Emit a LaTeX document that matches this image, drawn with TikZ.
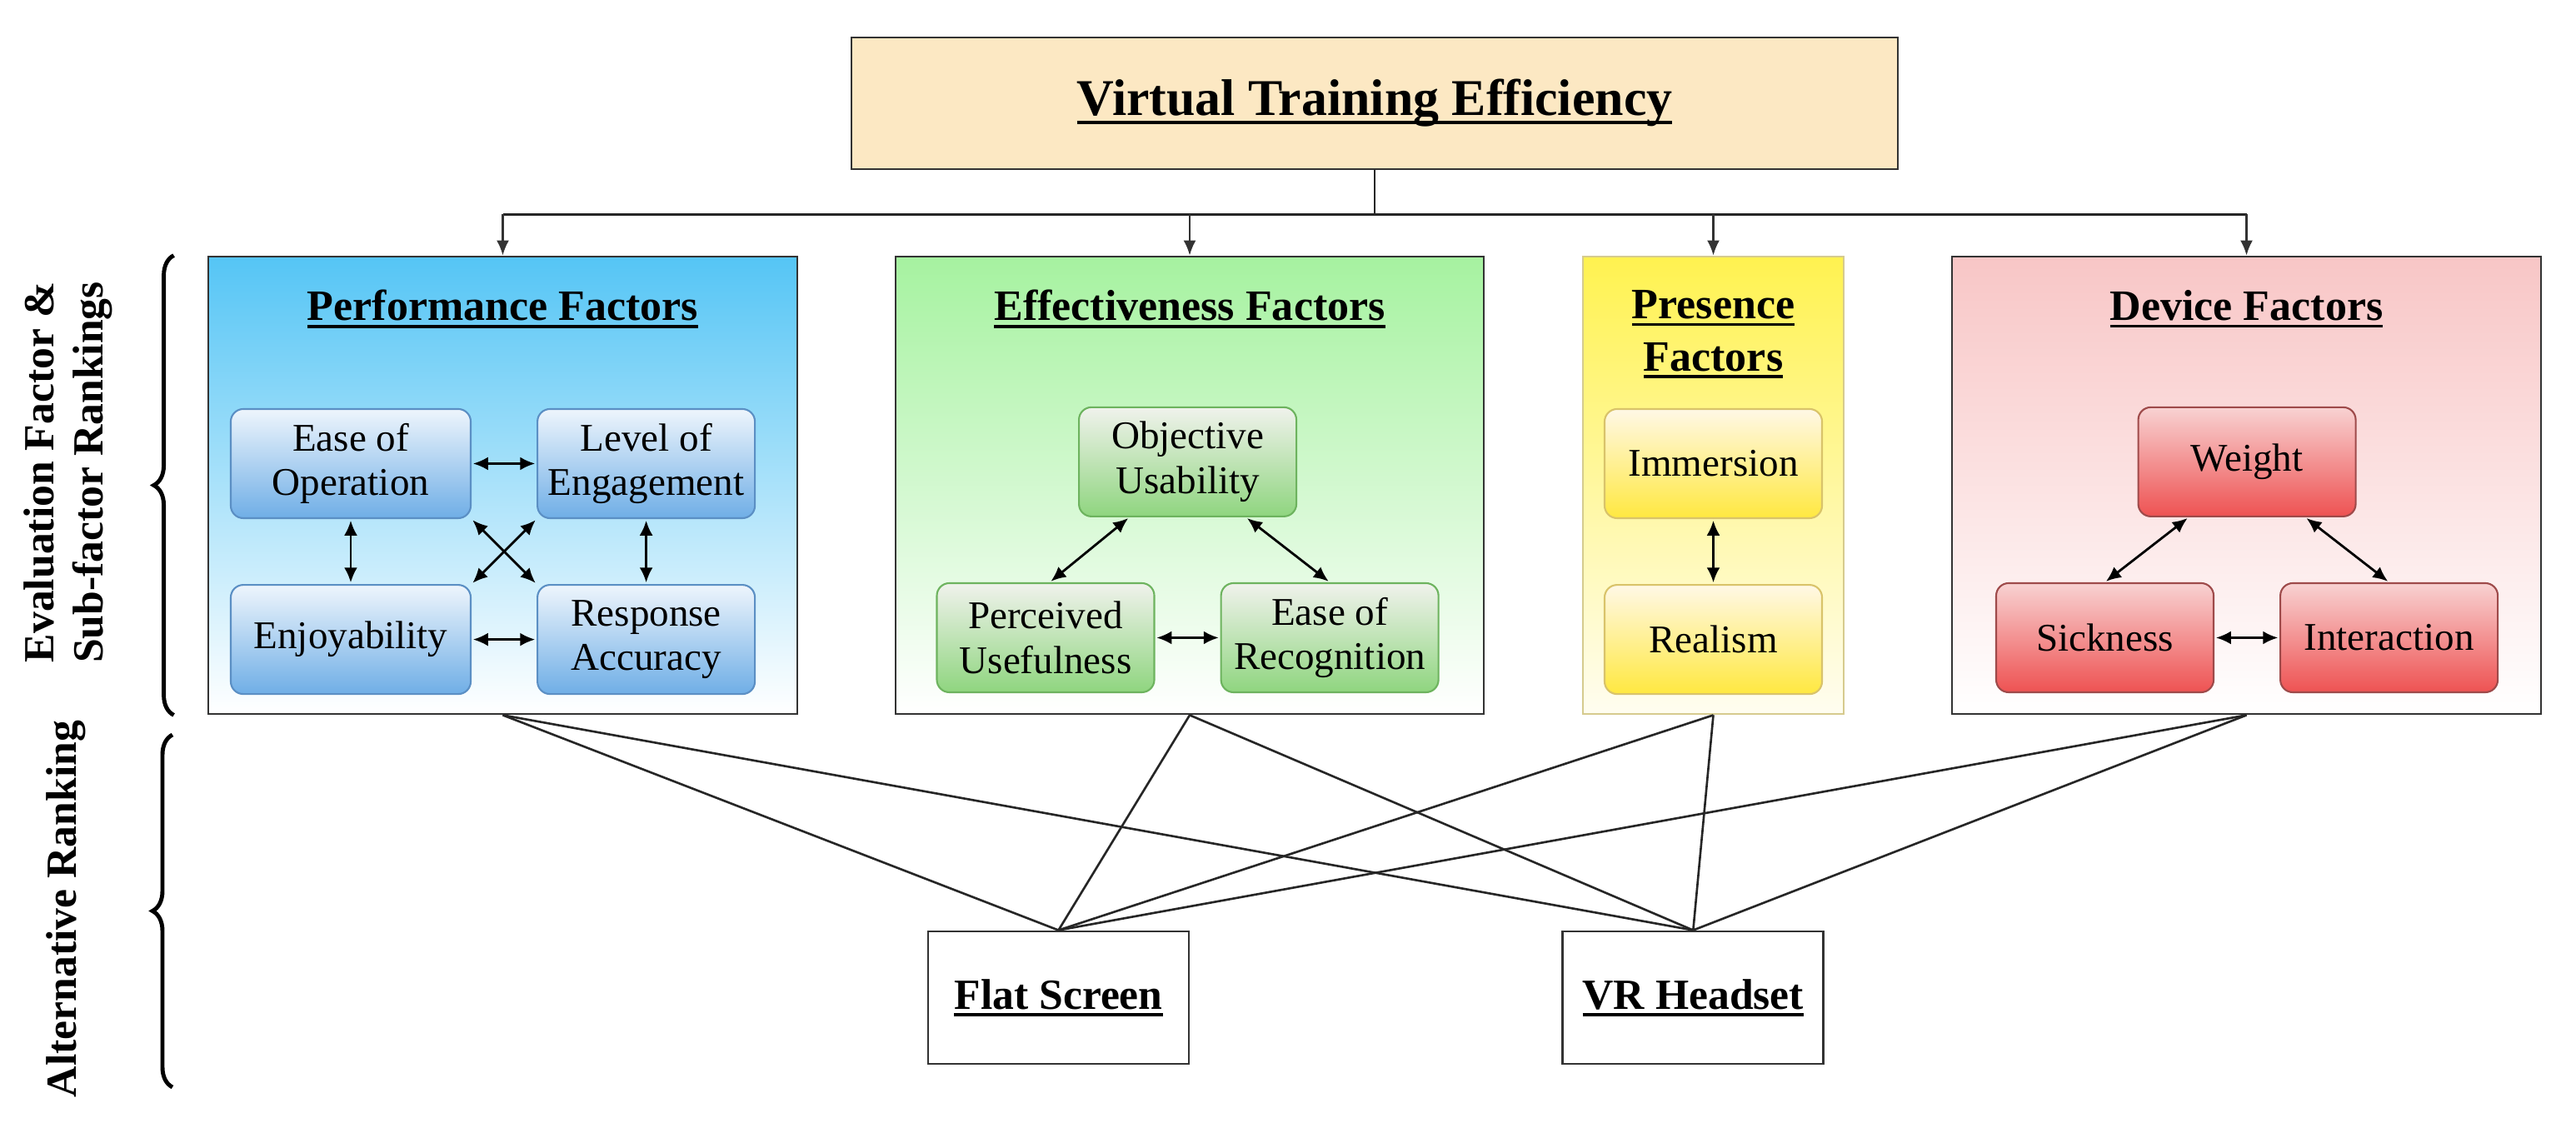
\documentclass[tikz,border=0pt]{standalone}
\usepackage{fontspec}
\setmainfont{Liberation Serif}
\usetikzlibrary{arrows.meta,positioning,calc,decorations.pathreplacing}
\definecolor{goalfill}{HTML}{FCE8C3}
\definecolor{edgegray}{HTML}{333333}
\definecolor{perftop}{HTML}{55C5F5}
\definecolor{perfsubtop}{HTML}{EEF5FC}
\definecolor{perfsubbot}{HTML}{6FAEE6}
\definecolor{perfsubedge}{HTML}{5B8FC4}
\definecolor{efftop}{HTML}{A6F2A0}
\definecolor{effsubtop}{HTML}{F0F2EC}
\definecolor{effsubbot}{HTML}{8FD57F}
\definecolor{effsubedge}{HTML}{6DB35E}
\definecolor{prestop}{HTML}{FFF250}
\definecolor{presbot}{HTML}{FFFDF0}
\definecolor{presedge}{HTML}{D6CB8E}
\definecolor{pressubtop}{HTML}{FFF8E6}
\definecolor{pressubbot}{HTML}{FFE840}
\definecolor{pressubedge}{HTML}{D9C36A}
\definecolor{devtop}{HTML}{F8C6C6}
\definecolor{devsubtop}{HTML}{F8D2D2}
\definecolor{devsubbot}{HTML}{EE5252}
\definecolor{devsubedge}{HTML}{9E4A4A}
\newsavebox{\ulbox}
\newcommand{\ulbf}[1]{\leavevmode\sbox{\ulbox}{#1}\rlap{\vrule width\wd\ulbox height -0.1em depth 0.17em}\usebox{\ulbox}}
\tikzstyle{goal} = [rectangle, draw=edgegray, line width=0.8pt, fill=goalfill,
    minimum width=12.56cm, minimum height=1.58cm, font=\fontsize{17.6}{21}\selectfont\bfseries]
\tikzstyle{factor} = [rectangle, draw=edgegray, line width=0.8pt, minimum height=5.49cm, inner sep=0pt]
\tikzstyle{ftitle} = [inner sep=0pt, align=center, font=\fontsize{14.8}{17.9}\selectfont\bfseries]
\tikzstyle{sub} = [rectangle, rounded corners=0.15cm, line width=0.6pt, minimum width=2.61cm,
    minimum height=1.31cm, align=center, inner sep=0pt, font=\fontsize{13.4}{15.2}\selectfont]
\tikzstyle{perfsub} = [sub, draw=perfsubedge, top color=perfsubtop, bottom color=perfsubbot]
\tikzstyle{effsub} = [sub, draw=effsubedge, top color=effsubtop, bottom color=effsubbot]
\tikzstyle{pressub} = [sub, draw=pressubedge, top color=pressubtop, bottom color=pressubbot]
\tikzstyle{devsub} = [sub, draw=devsubedge, top color=devsubtop, bottom color=devsubbot]
\tikzstyle{alt} = [rectangle, draw=edgegray, line width=0.8pt, fill=white, minimum width=3.13cm,
    minimum height=1.59cm, font=\fontsize{14.7}{17}\selectfont\bfseries]
\tikzstyle{arrow} = [-{Latex[length=1.8mm,width=1.5mm]}, line width=0.65pt, edgegray]
\tikzstyle{link} = [{Latex[length=1.8mm,width=1.6mm]}-{Latex[length=1.8mm,width=1.6mm]}, line width=0.8pt,
    shorten >=0.5pt, shorten <=0.5pt]
\tikzstyle{wire} = [line width=0.75pt, black!85]
\tikzstyle{bracket} = [decorate, decoration={brace, amplitude=0.24cm}, line width=1.4pt]
\tikzstyle{sidelabel} = [rotate=90, align=center, font=\fontsize{14.7}{16.8}\selectfont\bfseries]

\begin{document}
\begin{tikzpicture}[node distance=0.78cm]
\useasboundingbox (0,0) rectangle (30.92,13.60);
% goal and factor boxes
\node[goal] (goal) at (16.50,12.36) {\ulbf{Virtual Training Efficiency}};
\node[factor, minimum width=7.07cm, top color=perftop, bottom color=white] (perf) at (6.035,7.775) {};
\node[factor, minimum width=7.06cm, top color=efftop, bottom color=white] (eff) at (14.28,7.775) {};
\node[factor, minimum width=3.13cm, draw=presedge, top color=prestop, bottom color=presbot] (pres) at (20.565,7.775) {};
\node[factor, minimum width=7.07cm, top color=devtop, bottom color=white] (dev) at (26.965,7.775) {};

\node[ftitle, below=0.41cm of perf.north] (perftitle) {\ulbf{Performance Factors}};
\node[ftitle, below=0.41cm of eff.north] (efftitle) {\ulbf{Effectiveness Factors}};
\node[ftitle, below=0.41cm of pres.north] (prestitle) {\ulbf{Presence}\\\ulbf{Factors}};
\node[ftitle, below=0.41cm of dev.north] (devtitle) {\ulbf{Device Factors}};

% performance sub-factors
\node[perfsub, minimum width=2.88cm] (easeop) at (4.21,8.035) {Ease of\\Operation};
\node[perfsub, right=of easeop] (engage) {Level of\\Engagement};
\node[perfsub, minimum width=2.88cm, below=of easeop] (enjoy) {Enjoyability};
\node[perfsub, below=of engage] (accuracy) {Response\\Accuracy};

% effectiveness sub-factors
\node[effsub] (percuse) at (12.55,5.945) {Perceived\\Usefulness};
\node[effsub, right=of percuse] (easerec) {Ease of\\Recognition};
\coordinate (effmid) at ($(percuse.north)!0.5!(easerec.north)$);
\node[effsub, above=of effmid] (objuse) {Objective\\Usability};

% presence sub-factors
\node[pressub] (immersion) at (20.565,8.035) {Immersion};
\node[pressub, below=of immersion] (realism) {Realism};

% device sub-factors
\node[devsub] (sickness) at (25.265,5.945) {Sickness};
\node[devsub, right=of sickness] (interaction) {Interaction};
\coordinate (devmid) at ($(sickness.north)!0.5!(interaction.north)$);
\node[devsub, above=of devmid] (weight) {Weight};

% alternatives
\node[alt] (flat) at (12.705,1.625) {\ulbf{Flat Screen}};
\node[alt, right=4.46cm of flat] (vr) {\ulbf{VR Headset}};

% side labels
\node[sidelabel] (evallabel) at (0.82,7.93) {Evaluation Factor \&\\Sub-factor Rankings};
\node[sidelabel] (altlabel) at (0.79,2.69) {Alternative Ranking};
\coordinate (altlow) at (2.07,0.55);
\coordinate (althigh) at (2.07,4.78);
\draw[bracket] ([xshift=-0.4cm]perf.south west) -- ([xshift=-0.4cm]perf.north west);
\draw[bracket] (altlow) -- (althigh);

% goal to factors
\coordinate (bus) at ($(goal.south)+(0,-0.53)$);
\draw[wire] (goal.south) -- (bus);
\draw[wire] (perf.north |- bus) -- (dev.north |- bus);
\foreach \f in {perf,eff,pres,dev}
    \draw[arrow] (\f.north |- bus) -- (\f.north);

% links between sub-factors
\draw[link] (easeop) -- (engage);
\draw[link] (easeop) -- (enjoy);
\draw[link] (engage) -- (accuracy);
\draw[link] (enjoy) -- (accuracy);
\draw[link] (easeop.south east) -- (accuracy.north west);
\draw[link] (engage.south west) -- (enjoy.north east);
\draw[link] ([xshift=-0.7cm]objuse.south) -- ([xshift=0.05cm]percuse.north);
\draw[link] ([xshift=0.7cm]objuse.south) -- (easerec.north);
\draw[link] (percuse) -- (easerec);
\draw[link] (immersion) -- (realism);
\draw[link] ([xshift=-0.7cm]weight.south) -- (sickness.north);
\draw[link] ([xshift=0.7cm]weight.south) -- (interaction.north);
\draw[link] (sickness) -- (interaction);

% factors to alternatives
\foreach \f in {perf,eff,pres,dev}
    \foreach \a in {flat,vr}
        \draw[wire] (\f.south) -- (\a.north);
\end{tikzpicture}
\end{document}
